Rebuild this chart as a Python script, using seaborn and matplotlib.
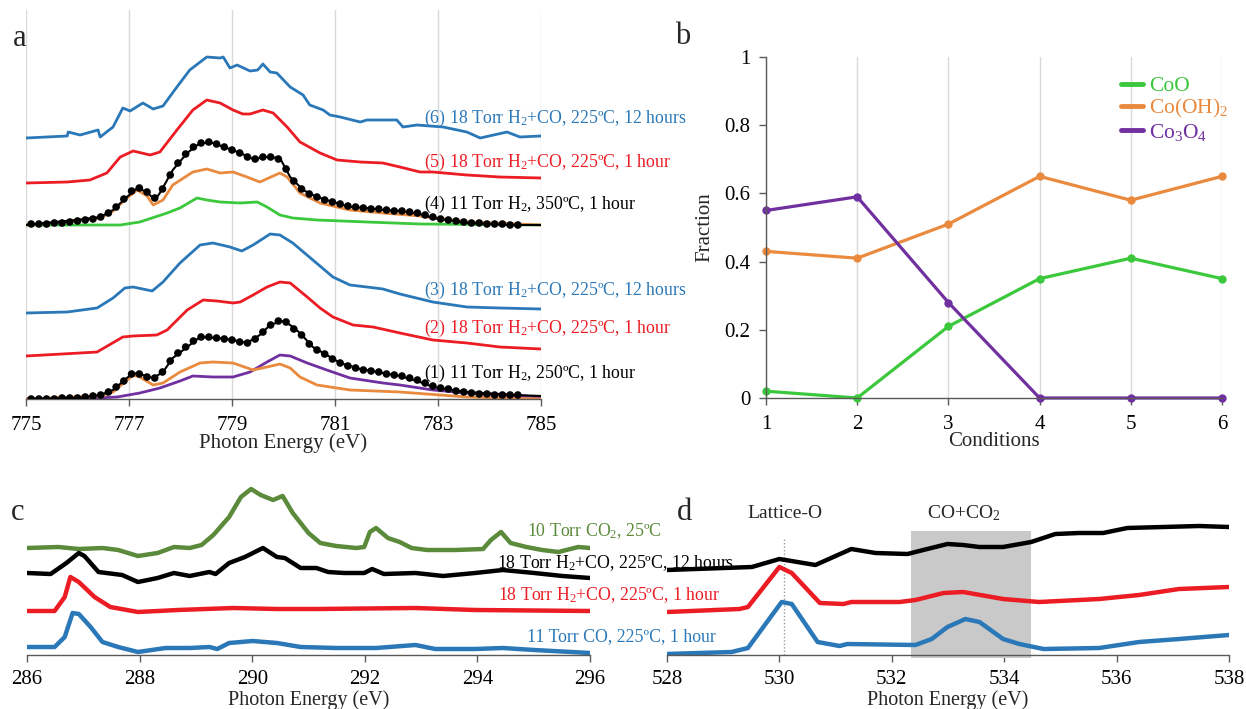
import numpy as np
import pandas as pd
import matplotlib
matplotlib.use("Agg")
import matplotlib.pyplot as plt
from matplotlib.lines import Line2D
from matplotlib.patches import Rectangle
import seaborn as sns

sns.set_theme(style="white")
plt.rcParams["font.family"] = ["Liberation Serif", "DejaVu Serif"]
plt.rcParams["mathtext.fontset"] = "custom"
plt.rcParams["mathtext.rm"] = "Liberation Serif"
plt.rcParams["mathtext.it"] = "Liberation Serif:italic"
plt.rcParams["mathtext.bf"] = "Liberation Serif:bold"

BLUE = "#2a78b8"
RED = "#ec1c24"
ORANGE = "#e98a3f"
GREEN = "#3cc83c"
PURPLE = "#7030a0"
OLIVE = "#5a8a3a"
AXIS = "#595959"
GRID = "#d9d9d9"

# ---------------- (a) Co L-edge spectra, offsets in arbitrary units ----------------
offsets_a = {"1": 0.00, "2": 0.43, "3": 0.86, "4": 1.74, "5": 2.16, "6": 2.61}

e_a6 = [775.00, 775.80, 775.82, 776.05, 776.40, 776.44, 776.69, 776.88, 777.02, 777.27,
        777.47, 777.66, 777.93, 778.18, 778.51, 778.77, 778.83, 778.96, 779.10, 779.35,
        779.50, 779.60, 779.74, 779.87, 780.13, 780.38, 780.51, 780.77, 780.90, 781.10,
        781.49, 781.62, 781.93, 782.20, 782.32, 782.59, 783.10, 783.56, 783.82, 784.34,
        784.59, 785.00]
i_a6 = [0.00, 0.02, 0.06, 0.03, 0.08, 0.01, 0.11, 0.30, 0.27, 0.35,
        0.29, 0.32, 0.51, 0.68, 0.81, 0.80, 0.81, 0.70, 0.73, 0.67,
        0.68, 0.74, 0.66, 0.65, 0.51, 0.43, 0.33, 0.28, 0.23, 0.21,
        0.16, 0.18, 0.18, 0.18, 0.11, 0.13, 0.11, 0.06, 0.00, 0.06,
        0.01, 0.02]

e_a5 = [775.00, 775.80, 776.24, 776.57, 776.83, 777.08, 777.41, 777.60, 777.93, 778.24,
        778.51, 778.77, 779.02, 779.21, 779.35, 779.60, 779.80, 780.07, 780.32, 780.71,
        781.04, 781.49, 781.93, 782.26, 782.65, 782.90, 783.56, 784.20, 785.00]
i_a5 = [0.00, 0.01, 0.03, 0.10, 0.26, 0.32, 0.28, 0.31, 0.53, 0.73,
        0.83, 0.80, 0.73, 0.69, 0.69, 0.73, 0.70, 0.56, 0.41, 0.30,
        0.23, 0.21, 0.20, 0.16, 0.11, 0.11, 0.08, 0.06, 0.05]

e_a4_fit = [775.00, 775.99, 776.44, 776.69, 776.96, 777.16, 777.35, 777.50, 777.60, 777.85,
            778.13, 778.38, 778.63, 778.90, 779.16, 779.41, 779.68, 779.93, 780.13, 780.38,
            780.65, 780.96, 781.29, 781.62, 781.93, 782.26, 782.65, 782.90, 783.56, 784.50,
            785.00]
i_a4_fit = [0.00, 0.05, 0.08, 0.15, 0.28, 0.37, 0.33, 0.25, 0.32, 0.55,
            0.72, 0.82, 0.82, 0.77, 0.72, 0.66, 0.68, 0.67, 0.48, 0.35,
            0.28, 0.23, 0.18, 0.17, 0.15, 0.14, 0.11, 0.07, 0.02, 0.00,
            0.00]

e_a4_ohx = [775.00, 776.44, 776.69, 776.96, 777.16, 777.35, 777.47, 777.66, 777.85, 778.24,
            778.51, 778.77, 779.02, 779.29, 779.54, 779.93, 780.07, 780.32, 780.71, 781.29,
            781.93, 782.65, 783.56, 785.00]
i_a4_ohx = [0.00, 0.07, 0.14, 0.27, 0.35, 0.29, 0.20, 0.25, 0.40, 0.53,
            0.56, 0.52, 0.53, 0.48, 0.43, 0.52, 0.48, 0.32, 0.22, 0.15,
            0.12, 0.09, 0.03, 0.00]

e_a4_coo = [775.00, 776.83, 777.21, 777.74, 777.99, 778.32, 778.51, 778.77, 779.16, 779.49,
            779.68, 779.93, 780.18, 780.65, 781.62, 782.65, 785.00]
i_a4_coo = [0.00, 0.00, 0.03, 0.12, 0.17, 0.27, 0.25, 0.23, 0.22, 0.23,
            0.18, 0.10, 0.07, 0.05, 0.03, 0.01, 0.00]

e_a3 = [775.00, 775.80, 776.38, 776.69, 776.92, 777.08, 777.45, 777.66, 777.99, 778.38,
        778.63, 778.96, 779.19, 779.41, 779.74, 779.93, 780.18, 780.57, 780.96, 781.29,
        781.62, 781.93, 782.26, 782.90, 783.56, 784.20, 785.00]
i_a3 = [0.00, 0.01, 0.05, 0.15, 0.25, 0.26, 0.22, 0.31, 0.50, 0.68,
        0.70, 0.66, 0.62, 0.68, 0.79, 0.78, 0.70, 0.53, 0.36, 0.28,
        0.26, 0.24, 0.19, 0.11, 0.06, 0.05, 0.04]

e_a2 = [775.00, 776.05, 776.38, 776.88, 777.08, 777.54, 777.74, 778.13, 778.44, 778.71,
        779.02, 779.16, 779.41, 779.68, 779.93, 780.13, 780.46, 780.71, 780.96, 781.35,
        781.74, 782.26, 782.90, 783.56, 784.20, 785.00]
i_a2 = [0.00, 0.03, 0.04, 0.19, 0.20, 0.21, 0.26, 0.46, 0.56, 0.55,
        0.53, 0.54, 0.61, 0.69, 0.74, 0.73, 0.59, 0.48, 0.39, 0.31,
        0.29, 0.23, 0.16, 0.13, 0.09, 0.07]

e_a1_fit = [775.12, 775.99, 776.44, 776.69, 776.96, 777.08, 777.27, 777.47, 777.66, 777.85,
            778.13, 778.38, 778.71, 779.02, 779.29, 779.54, 779.74, 779.97, 780.13, 780.32,
            780.57, 780.84, 781.10, 781.49, 781.93, 782.26, 782.65, 782.90, 783.56, 784.50,
            785.00]
i_a1_fit = [0.00, 0.01, 0.04, 0.09, 0.21, 0.26, 0.24, 0.21, 0.27, 0.41,
            0.52, 0.62, 0.61, 0.59, 0.56, 0.64, 0.74, 0.78, 0.74, 0.66,
            0.52, 0.44, 0.36, 0.30, 0.26, 0.23, 0.17, 0.12, 0.07, 0.04,
            0.03]

e_a1_ohx = [775.00, 776.44, 776.69, 777.08, 777.21, 777.47, 777.66, 777.99, 778.38, 778.63,
            779.02, 779.41, 779.68, 779.93, 780.13, 780.32, 780.65, 781.29, 782.26, 783.56,
            785.00]
i_a1_ohx = [0.00, 0.03, 0.07, 0.24, 0.22, 0.14, 0.16, 0.27, 0.36, 0.37,
            0.36, 0.29, 0.32, 0.35, 0.31, 0.22, 0.14, 0.09, 0.07, 0.02,
            0.00]

e_a1_spinel = [775.00, 776.05, 776.77, 777.21, 777.60, 777.99, 778.24, 778.63, 779.02, 779.35,
               779.68, 779.93, 780.13, 780.46, 780.84, 781.29, 781.93, 782.26, 782.90, 783.56,
               785.00]
i_a1_spinel = [0.00, 0.00, 0.02, 0.06, 0.11, 0.18, 0.23, 0.22, 0.22, 0.27,
               0.37, 0.44, 0.43, 0.36, 0.29, 0.21, 0.16, 0.14, 0.09, 0.06,
               0.02]

# measured points (0.15 eV steps) for conditions (1) and (4)
e_dots = np.round(np.arange(775.10, 784.56, 0.15), 2)
i_dots4 = [0.01, 0.01, 0.01, 0.02, 0.02, 0.03, 0.04, 0.05, 0.06, 0.08,
           0.12, 0.18, 0.26, 0.34, 0.37, 0.33, 0.27, 0.36, 0.50, 0.62,
           0.71, 0.78, 0.82, 0.83, 0.81, 0.78, 0.75, 0.72, 0.68, 0.66,
           0.68, 0.68, 0.66, 0.56, 0.44, 0.36, 0.31, 0.28, 0.25, 0.23,
           0.21, 0.19, 0.18, 0.17, 0.16, 0.16, 0.15, 0.14, 0.14, 0.13,
           0.12, 0.10, 0.08, 0.06, 0.05, 0.04, 0.03, 0.02, 0.02, 0.01,
           0.01, 0.01, 0.00, 0.00]
i_dots1 = [0.00, 0.00, 0.00, 0.00, 0.01, 0.01, 0.01, 0.02, 0.03, 0.04,
           0.07, 0.12, 0.18, 0.25, 0.25, 0.22, 0.21, 0.27, 0.38, 0.46,
           0.52, 0.58, 0.62, 0.62, 0.61, 0.60, 0.59, 0.57, 0.56, 0.60,
           0.67, 0.74, 0.78, 0.77, 0.70, 0.64, 0.55, 0.49, 0.45, 0.40,
           0.36, 0.33, 0.31, 0.29, 0.28, 0.27, 0.25, 0.24, 0.23, 0.21,
           0.19, 0.16, 0.13, 0.11, 0.10, 0.08, 0.07, 0.06, 0.05, 0.05,
           0.04, 0.04, 0.04, 0.04]

labels_a = {
    "6": r"(6) 18 Torr H$_\mathregular{2}$+CO, 225ºC, 12 hours",
    "5": r"(5) 18 Torr H$_\mathregular{2}$+CO, 225ºC, 1 hour",
    "4": r"(4) 11 Torr H$_\mathregular{2}$, 350ºC, 1 hour",
    "3": r"(3) 18 Torr H$_\mathregular{2}$+CO, 225ºC, 12 hours",
    "2": r"(2) 18 Torr H$_\mathregular{2}$+CO, 225ºC, 1 hour",
    "1": r"(1) 11 Torr H$_\mathregular{2}$, 250ºC, 1 hour",
}
label_height_a = {"6": 0.20, "5": 0.21, "4": 0.21, "3": 0.23, "2": 0.28, "1": 0.26}

# ---------------- (b) phase fractions ----------------
conditions = [1, 2, 3, 4, 5, 6]
frac_coo = [0.02, 0.00, 0.21, 0.35, 0.41, 0.35]
frac_cooh2 = [0.43, 0.41, 0.51, 0.65, 0.58, 0.65]
frac_co3o4 = [0.55, 0.59, 0.28, 0.00, 0.00, 0.00]
phase_names = ["CoO", r"Co(OH)$_\mathregular{2}$", r"Co$_\mathregular{3}$O$_\mathregular{4}$"]

# ---------------- (c) C K-edge spectra ----------------
offsets_c = {"co2": 1.07, "h2co12": 0.82, "h2co1": 0.44, "co": 0.08}
e_c_co2 = [286.00, 286.56, 286.92, 287.34, 287.62, 287.97, 288.32, 288.61, 288.89, 289.10,
           289.31, 289.59, 289.80, 289.98, 290.15, 290.37, 290.54, 290.72, 291.00, 291.21,
           291.49, 291.85, 291.99, 292.09, 292.20, 292.41, 292.62, 292.83, 293.11, 293.61,
           294.10, 294.24, 294.42, 294.59, 294.87, 295.15, 295.44, 295.79, 296.00]
i_c_co2 = [0.00, 0.01, -0.01, 0.00, -0.02, -0.08, -0.05, 0.01, 0.00, 0.03,
           0.13, 0.31, 0.51, 0.59, 0.53, 0.48, 0.52, 0.35, 0.15, 0.05,
           0.02, 0.00, 0.01, 0.16, 0.20, 0.10, 0.06, 0.00, -0.02, -0.02,
           -0.01, 0.08, 0.16, 0.05, 0.01, -0.02, -0.04, 0.01, 0.00]
e_c_h2co12 = [286.00, 286.42, 286.70, 286.92, 287.02, 287.27, 287.41, 287.69, 287.97, 288.32,
              288.61, 288.89, 289.24, 289.35, 289.59, 289.87, 290.19, 290.44, 290.58, 290.86,
              291.14, 291.35, 291.63, 291.99, 292.13, 292.34, 292.90, 293.39, 293.96, 294.45,
              295.01, 295.51, 296.00]
i_c_h2co12 = [0.00, -0.01, 0.10, 0.20, 0.17, 0.01, 0.00, -0.02, -0.09, -0.05,
              0.00, -0.03, 0.01, -0.01, 0.10, 0.16, 0.25, 0.16, 0.15, 0.05,
              0.05, 0.01, 0.00, 0.00, 0.04, -0.01, 0.00, -0.03, 0.00, 0.03,
              0.00, -0.03, -0.05]
e_c_h2co1 = [286.00, 286.49, 286.67, 286.77, 286.92, 287.20, 287.48, 287.97, 288.68, 289.66,
             290.44, 291.14, 292.90, 293.96, 296.00]
i_c_h2co1 = [0.00, 0.00, 0.14, 0.34, 0.29, 0.14, 0.04, -0.01, 0.01, 0.03,
             0.02, 0.02, 0.03, 0.01, 0.00]
e_c_co = [286.00, 286.49, 286.67, 286.81, 286.92, 287.13, 287.34, 287.62, 287.97, 288.46,
          288.89, 289.24, 289.38, 289.59, 290.01, 290.44, 290.86, 291.49, 292.20, 292.90,
          293.25, 293.96, 294.45, 295.01, 296.00]
i_c_co = [0.00, 0.00, 0.10, 0.34, 0.33, 0.20, 0.05, 0.00, -0.05, -0.01,
          -0.01, 0.00, -0.02, 0.04, 0.06, 0.04, 0.00, -0.01, -0.01, 0.02,
          -0.02, -0.02, -0.01, -0.03, -0.06]
labels_c = {
    "co2": (r"10 Torr CO$_\mathregular{2}$, 25ºC", 294.88, 1.24, OLIVE),
    "h2co12": (r"18 Torr H$_\mathregular{2}$+CO, 225ºC, 12 hours", 294.35, 0.92, "black"),
    "h2co1": (r"18 Torr H$_\mathregular{2}$+CO, 225ºC, 1 hour", 294.37, 0.60, RED),
    "co": ("11 Torr CO, 225ºC, 1 hour", 294.88, 0.18, BLUE),
}

# ---------------- (d) O K-edge spectra ----------------
offsets_d = {"h2co12": 0.85, "h2co1": 0.43, "co": 0.01}
e_d_h2co12 = [528.00, 529.51, 530.00, 530.64, 531.28, 531.71, 532.28, 532.56, 532.99, 533.27,
              533.56, 533.98, 534.48, 534.91, 535.33, 535.76, 536.19, 536.83, 537.47, 538.00]
i_d_h2co12 = [0.00, 0.03, 0.11, 0.05, 0.21, 0.17, 0.16, 0.20, 0.26, 0.25,
              0.23, 0.23, 0.28, 0.36, 0.37, 0.37, 0.42, 0.43, 0.44, 0.43]
e_d_h2co1 = [528.00, 529.29, 529.44, 530.00, 530.22, 530.72, 531.14, 531.28, 532.14, 532.42,
             532.92, 533.27, 533.98, 534.62, 535.69, 536.40, 537.11, 538.00]
i_d_h2co1 = [0.00, 0.03, 0.05, 0.45, 0.39, 0.09, 0.08, 0.10, 0.10, 0.12,
             0.19, 0.20, 0.13, 0.10, 0.13, 0.17, 0.23, 0.25]
e_d_co = [528.00, 529.15, 529.44, 530.04, 530.22, 530.68, 531.07, 531.21, 532.42, 532.71,
          532.99, 533.31, 533.56, 533.98, 534.27, 534.70, 535.69, 536.40, 537.11, 538.00]
i_d_co = [0.00, 0.02, 0.06, 0.52, 0.50, 0.12, 0.08, 0.10, 0.09, 0.15,
          0.27, 0.35, 0.32, 0.15, 0.10, 0.05, 0.06, 0.12, 0.15, 0.19]
lattice_o_energy = 530.09
co_band = (532.35, 534.47)

TICK_FS = 15
LABEL_FS = 15
NOTE_FS = 12.8


def trace(ax, e, i, offset, color, lw, z=2):
    sns.lineplot(x=np.asarray(e, float), y=np.asarray(i, float) + offset, ax=ax,
                 color=color, lw=lw, sort=False, estimator=None, zorder=z,
                 solid_capstyle="round", solid_joinstyle="round")


def bottom_axis_only(ax, xticks, xlim, ylim, pad=7):
    for s in ("left", "right", "top"):
        ax.spines[s].set_visible(False)
    ax.spines["bottom"].set_color(AXIS)
    ax.spines["bottom"].set_linewidth(1.0)
    ax.set_xlim(*xlim)
    ax.set_ylim(*ylim)
    ax.set_xticks(xticks)
    ax.set_xticklabels([str(t) for t in xticks])
    ax.set_yticks([])
    ax.tick_params(axis="x", bottom=True, direction="out", length=5, width=1,
                   color=AXIS, pad=pad, labelsize=TICK_FS, labelcolor="black")
    ax.set_ylabel("")
    ax.patch.set_visible(False)


fig = plt.figure(figsize=(12.46, 7.09), dpi=100)
W, H = 1246, 709


def place(left, top, right, bottom):
    return fig.add_axes([left / W, 1 - bottom / H, (right - left) / W, (bottom - top) / H])


# ---------- panel a ----------
ax_a = place(26, 10, 541, 399)
ticks_a = [775, 777, 779, 781, 783, 785]
ax_a.grid(axis="x", color=GRID, lw=1)
ax_a.set_axisbelow(True)
lw_a = 2.0
trace(ax_a, e_a6, i_a6, offsets_a["6"], BLUE, lw_a)
trace(ax_a, e_a5, i_a5, offsets_a["5"], RED, lw_a)
trace(ax_a, e_a4_coo, i_a4_coo, offsets_a["4"], GREEN, lw_a)
trace(ax_a, e_a4_ohx, i_a4_ohx, offsets_a["4"], ORANGE, lw_a)
sns.scatterplot(x=e_dots, y=np.asarray(i_dots4) + offsets_a["4"], ax=ax_a, color="black",
                s=30, edgecolor="none", linewidth=0, zorder=3)
trace(ax_a, e_a4_fit, i_a4_fit, offsets_a["4"], "black", 1.5, z=4)
trace(ax_a, e_a3, i_a3, offsets_a["3"], BLUE, lw_a)
trace(ax_a, e_a2, i_a2, offsets_a["2"], RED, lw_a)
trace(ax_a, e_a1_spinel, i_a1_spinel, offsets_a["1"], PURPLE, lw_a)
trace(ax_a, e_a1_ohx, i_a1_ohx, offsets_a["1"], ORANGE, lw_a)
sns.scatterplot(x=e_dots, y=np.asarray(i_dots1) + offsets_a["1"], ax=ax_a, color="black",
                s=30, edgecolor="none", linewidth=0, zorder=3)
trace(ax_a, e_a1_fit, i_a1_fit, offsets_a["1"], "black", 1.5, z=4)
bottom_axis_only(ax_a, ticks_a, (775, 785), (0, 3.89))
label_colors_a = {"6": BLUE, "5": RED, "4": "black", "3": BLUE, "2": RED, "1": "black"}
for key, txt in labels_a.items():
    ax_a.text(782.72, offsets_a[key] + label_height_a[key], txt, color=label_colors_a[key],
              fontsize=NOTE_FS, va="center", ha="left", clip_on=False, zorder=6)
ax_a.set_xlabel("Photon Energy (eV)", fontsize=LABEL_FS, labelpad=-1)
fig.text(20 / W, 1 - 38 / H, "a", fontsize=22, ha="center", va="center")

# ---------- panel b ----------
ax_b = place(766, 57, 1222, 398)
df_b = pd.DataFrame({
    "Condition": conditions * 3,
    "Fraction": frac_coo + frac_cooh2 + frac_co3o4,
    "Phase": [phase_names[0]] * 6 + [phase_names[1]] * 6 + [phase_names[2]] * 6,
})
palette_b = {phase_names[0]: GREEN, phase_names[1]: ORANGE, phase_names[2]: PURPLE}
sns.lineplot(data=df_b, x="Condition", y="Fraction", hue="Phase", palette=palette_b,
             marker="o", markersize=6, markeredgewidth=0, lw=2.3, ax=ax_b, legend=False,
             sort=False, estimator=None, clip_on=False)
ax_b.set_xlim(1, 6)
ax_b.set_ylim(0, 1)
ax_b.set_xticks(conditions)
ax_b.set_yticks([0, 0.2, 0.4, 0.6, 0.8, 1.0])
ax_b.set_yticklabels(["0", "0.2", "0.4", "0.6", "0.8", "1"])
ax_b.grid(axis="x", color=GRID, lw=1)
ax_b.grid(axis="y", visible=False)
ax_b.set_axisbelow(True)
for s in ("right", "top"):
    ax_b.spines[s].set_visible(False)
for s in ("left", "bottom"):
    ax_b.spines[s].set_color(AXIS)
    ax_b.spines[s].set_linewidth(1.0)
ax_b.tick_params(axis="x", bottom=True, direction="out", length=5, width=1,
                 color=AXIS, pad=7, labelsize=TICK_FS, labelcolor="black")
ax_b.tick_params(axis="y", left=True, direction="out", length=5, width=1,
                 color=AXIS, pad=6, labelsize=TICK_FS, labelcolor="black")
ax_b.set_xlabel("Conditions", fontsize=LABEL_FS, labelpad=-1)
ax_b.set_ylabel("Fraction", fontsize=LABEL_FS, labelpad=7)
handles = [Line2D([], [], color=palette_b[p], lw=3.5) for p in phase_names]
ax_b.legend(handles, phase_names, loc="upper left", bbox_to_anchor=(0.756, 0.975),
            frameon=False, fontsize=15.5, handlelength=1.0, handletextpad=0.3,
            labelspacing=0.05, borderpad=0, labelcolor="linecolor")
fig.text(683 / W, 1 - 37 / H, "b", fontsize=22, ha="center", va="center")

# ---------- panel c ----------
ax_c = place(27, 470, 590, 655)
lw_c = 3.2
trace(ax_c, e_c_co2, i_c_co2, offsets_c["co2"], OLIVE, lw_c)
trace(ax_c, e_c_h2co12, i_c_h2co12, offsets_c["h2co12"], "black", lw_c)
trace(ax_c, e_c_h2co1, i_c_h2co1, offsets_c["h2co1"], RED, lw_c)
trace(ax_c, e_c_co, i_c_co, offsets_c["co"], BLUE, lw_c)
bottom_axis_only(ax_c, [286, 288, 290, 292, 294, 296], (286, 296), (0, 1.85), pad=6)
ax_c.set_xlabel("Photon Energy (eV)", fontsize=14.5, labelpad=0.5)
fig.text(18 / W, 1 - 512 / H, "c", fontsize=22, ha="center", va="center")

# ---------- panel d ----------
ax_d = place(667, 470, 1229, 655)
ax_d.add_patch(Rectangle((co_band[0], -0.03), co_band[1] - co_band[0], 1.27,
                         facecolor="#c9c9c9", edgecolor="none", zorder=1, clip_on=False))
ax_d.plot([lattice_o_energy, lattice_o_energy], [0, 1.18], color="#9a9a9a", lw=1,
          ls=(0, (1, 1.5)), zorder=1.5)
lw_d = 3.2
trace(ax_d, e_d_h2co12, i_d_h2co12, offsets_d["h2co12"], "black", lw_d)
trace(ax_d, e_d_h2co1, i_d_h2co1, offsets_d["h2co1"], RED, lw_d)
trace(ax_d, e_d_co, i_d_co, offsets_d["co"], BLUE, lw_d)
bottom_axis_only(ax_d, [528, 530, 532, 534, 536, 538], (528, 538), (0, 1.85), pad=6)
ax_d.text(lattice_o_energy, 1.42, "Lattice-O", fontsize=14, ha="center", va="center")
ax_d.text(sum(co_band) / 2 - 0.13, 1.42, r"CO+CO$_\mathregular{2}$", fontsize=14,
          ha="center", va="center")
ax_d.set_xlabel("Photon Energy (eV)", fontsize=14.5, labelpad=0.5)
fig.text(684 / W, 1 - 512 / H, "d", fontsize=22, ha="center", va="center")

# condition labels of panel c run across into panel d, so draw them on top of both
for key, (txt, ex, yy, col) in labels_c.items():
    ax_c.text(ex, yy, txt, color=col, fontsize=NOTE_FS, va="center", ha="left",
              clip_on=False, zorder=6)
ax_c.set_zorder(ax_d.get_zorder() + 1)

fig.savefig("out.png", dpi=100, facecolor="white")
